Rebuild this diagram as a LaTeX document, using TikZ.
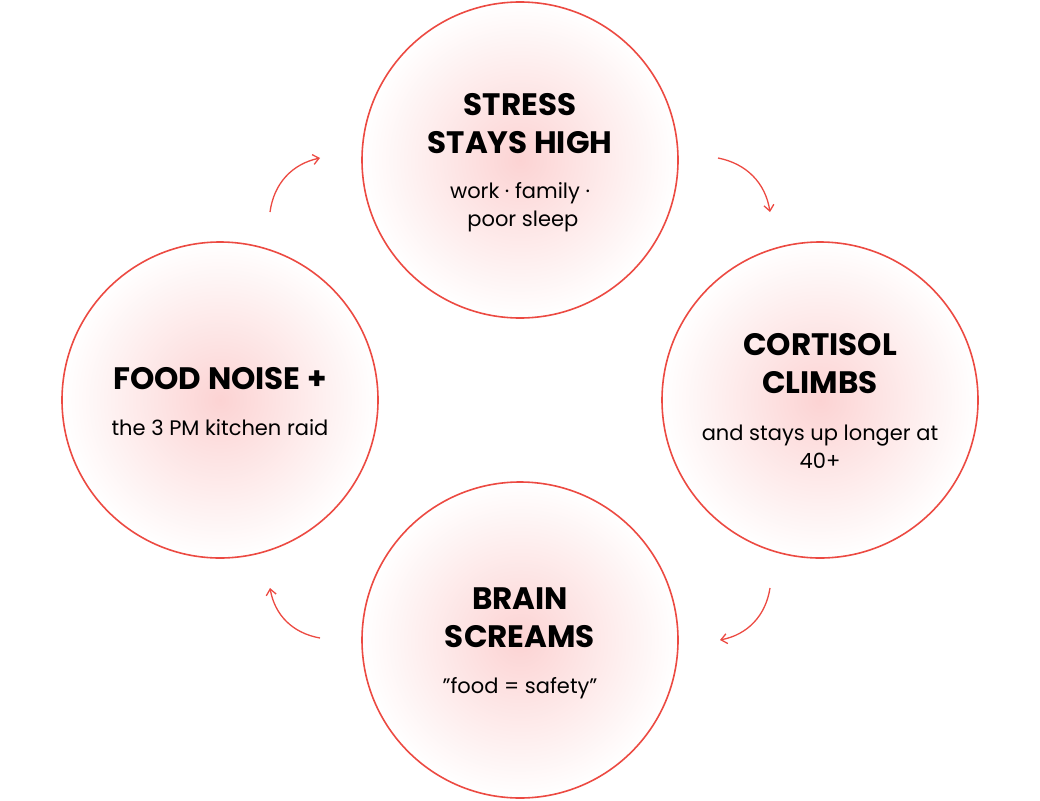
\documentclass[tikz,border=0pt]{standalone}
\usepackage{fontspec}
\setmainfont{Poppins}
\usetikzlibrary{arrows.meta}
\definecolor{loopred}{HTML}{EC4A42}
\definecolor{loopcore}{HTML}{FCD3D3}
\tikzset{
  stage/.style={circle, draw=loopred, line width=1.6pt, minimum size=316pt,
    inner color=loopcore, outer color=white},
  head/.style={align=center, font=\fontsize{31}{38}\selectfont\bfseries},
  note/.style={align=center, font=\fontsize{21}{28}\selectfont},
  looparrow/.style={draw=loopred, line width=1.3pt, -{Straight Barb[length=6pt,width=10pt]}}
}
\begin{document}
\begin{tikzpicture}[x=1pt,y=-1pt]
\useasboundingbox (0,0) rectangle (1040,800);

% stages
\node[stage] (stress) at (520,160) {};
\node[stage] (cortisol) at (820,400) {};
\node[stage] (brain) at (520,640) {};
\node[stage] (food) at (220,400) {};

% texts
\node[head] (stresshead) at (520,124) {STRESS\\STAYS HIGH};
\node[note] (stressnote) at (520,207) {work · family ·\\\ poor sleep};
\node[head] (cortisolhead) at (820,364) {CORTISOL\\CLIMBS};
\node[note] (cortisolnote) at (820,447) {and stays up longer at\\40+};
\node[head] (brainhead) at (520,618) {BRAIN\\SCREAMS};
\node[note] (brainnote) at (520,688) {\symbol{34}food = safety\symbol{34}};
\node[head] (foodhead) at (220,379) {FOOD NOISE +};
\node[note] (foodnote) at (220,428) {the 3 PM kitchen raid};

% loop arrows
\coordinate (a1) at (270,212); \coordinate (b1) at (320,158);
\coordinate (a2) at (718,158); \coordinate (b2) at (770,212);
\coordinate (a3) at (770,588); \coordinate (b3) at (720,640);
\coordinate (a4) at (320,638); \coordinate (b4) at (270,588);
\draw[looparrow] (a1) to[bend left=35] (b1);
\draw[looparrow] (a2) to[bend left=35] (b2);
\draw[looparrow] (a3) to[bend left=35] (b3);
\draw[looparrow] (a4) to[bend left=35] (b4);

\end{tikzpicture}
\end{document}
